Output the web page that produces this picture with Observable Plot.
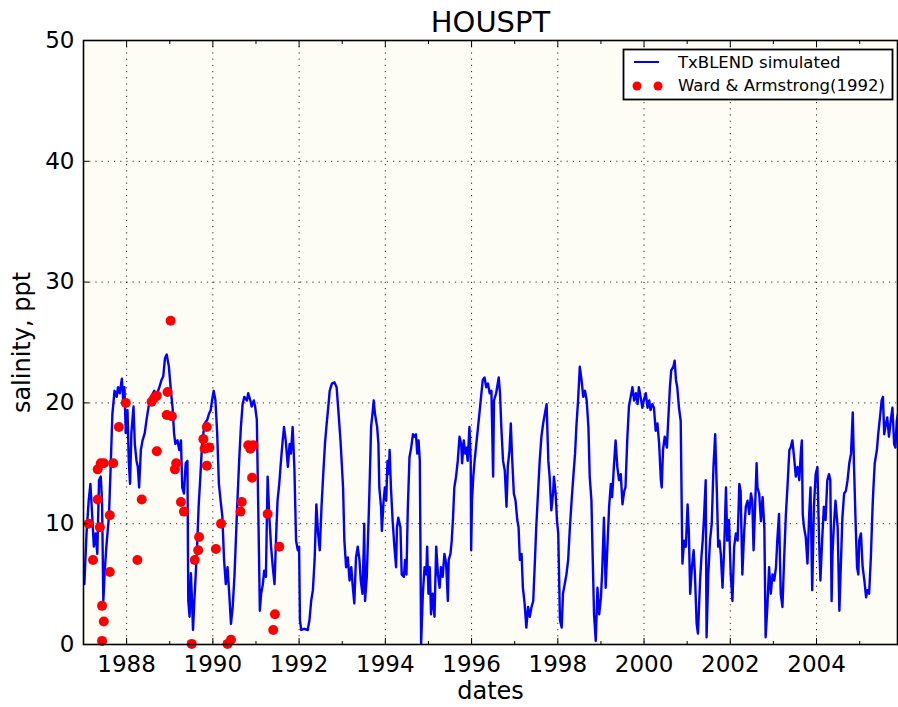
<!DOCTYPE html>
<html><head><meta charset="utf-8">
<script src="https://cdn.jsdelivr.net/npm/d3@7"></script>
<script src="https://cdn.jsdelivr.net/npm/@observablehq/plot@0.6"></script>
<style>
body{margin:0;background:#fff;}
#wrap{position:relative;width:898px;height:707px;font-family:"DejaVu Sans",sans-serif;}
#legend{position:absolute;left:0;top:0;}
</style></head><body><div id="wrap"></div>
<script>
const title = "HOUSPT";
const xLabel = "dates";
const yLabel = "salinity, ppt";
const seriesNames = ["TxBLEND simulated", "Ward & Armstrong(1992)"];
const xTickYears = [1988,1990,1992,1994,1996,1998,2000,2002,2004];
const xMinorYears = [1987,1989,1991,1993,1995,1997,1999,2001,2003,2005];
const yTicks = [0,10,20,30,40,50];

// TxBLEND simulated salinity (decimal year, ppt)
const simYear = [
1987.02,1987.07,1987.12,1987.16,1987.20,1987.24,1987.28,1987.32,1987.36,1987.40,1987.43,1987.46,1987.49,1987.53,1987.59,1987.63,1987.67,1987.72,1987.77,1987.80,1987.84,1987.89,1987.92,1987.95,1987.98,
1988.02,1988.05,1988.08,1988.11,1988.16,1988.19,1988.23,1988.26,1988.29,1988.33,1988.37,1988.42,1988.47,1988.52,1988.57,1988.64,1988.67,1988.71,1988.76,1988.81,1988.85,1988.89,1988.93,1988.98,
1989.02,1989.07,1989.10,1989.13,1989.18,1989.22,1989.26,1989.29,1989.33,1989.37,1989.41,1989.43,1989.46,1989.49,1989.51,1989.54,1989.57,1989.60,1989.64,1989.67,1989.71,1989.75,1989.81,1989.87,1989.91,1989.95,1989.98,
1990.02,1990.06,1990.10,1990.14,1990.18,1990.22,1990.26,1990.30,1990.34,1990.38,1990.42,1990.46,1990.50,1990.54,1990.57,1990.61,1990.65,1990.69,1990.73,1990.79,1990.82,1990.87,1990.90,1990.95,1990.98,
1991.02,1991.05,1991.09,1991.12,1991.16,1991.19,1991.23,1991.27,1991.31,1991.35,1991.39,1991.43,1991.47,1991.50,1991.54,1991.58,1991.62,1991.65,1991.69,1991.74,1991.78,1991.81,1991.85,1991.89,1991.93,1991.97,
1992.00,1992.02,1992.05,1992.12,1992.20,1992.24,1992.28,1992.32,1992.36,1992.40,1992.44,1992.48,1992.52,1992.56,1992.60,1992.64,1992.67,1992.71,1992.76,1992.82,1992.87,1992.91,1992.96,
1993.02,1993.05,1993.09,1993.13,1993.17,1993.21,1993.24,1993.28,1993.32,1993.36,1993.40,1993.43,1993.47,1993.50,1993.51,1993.53,1993.57,1993.63,1993.67,1993.71,1993.73,1993.76,1993.81,1993.84,1993.86,1993.90,1993.92,1993.96,1993.99,
1994.02,1994.05,1994.08,1994.10,1994.13,1994.17,1994.21,1994.25,1994.27,1994.30,1994.35,1994.38,1994.43,1994.46,1994.49,1994.52,1994.56,1994.60,1994.64,1994.67,1994.71,1994.74,1994.77,1994.80,1994.83,1994.87,1994.91,1994.95,1994.97,
1995.00,1995.03,1995.06,1995.10,1995.14,1995.18,1995.22,1995.26,1995.29,1995.33,1995.37,1995.41,1995.45,1995.47,1995.51,1995.54,1995.57,1995.60,1995.64,1995.68,1995.72,1995.76,1995.78,1995.82,1995.85,1995.88,1995.91,1995.95,1995.98,1995.99,
1996.01,1996.04,1996.07,1996.11,1996.15,1996.19,1996.22,1996.26,1996.30,1996.34,1996.38,1996.42,1996.46,1996.50,1996.52,1996.57,1996.63,1996.66,1996.69,1996.73,1996.77,1996.81,1996.84,1996.88,1996.91,1996.94,1996.98,
1997.02,1997.06,1997.09,1997.12,1997.16,1997.19,1997.23,1997.27,1997.31,1997.35,1997.39,1997.43,1997.47,1997.50,1997.54,1997.58,1997.62,1997.66,1997.70,1997.74,1997.78,1997.81,1997.85,1997.89,1997.91,1997.95,1997.98,
1998.01,1998.03,1998.05,1998.09,1998.12,1998.16,1998.20,1998.24,1998.28,1998.32,1998.36,1998.40,1998.43,1998.47,1998.51,1998.55,1998.59,1998.63,1998.67,1998.71,1998.74,1998.78,1998.80,1998.84,1998.88,1998.92,1998.96,
1999.00,1999.03,1999.07,1999.11,1999.15,1999.19,1999.23,1999.26,1999.30,1999.34,1999.38,1999.42,1999.46,1999.50,1999.54,1999.57,1999.61,1999.65,1999.69,1999.73,1999.77,1999.81,1999.85,1999.88,1999.92,1999.96,
2000.00,2000.04,2000.08,2000.12,2000.15,2000.19,2000.23,2000.27,2000.31,2000.35,2000.39,2000.41,2000.44,2000.48,2000.53,2000.56,2000.60,2000.63,2000.68,2000.71,2000.74,2000.77,2000.81,2000.85,2000.87,2000.89,2000.93,2000.97,
2001.01,2001.04,2001.07,2001.11,2001.15,2001.18,2001.22,2001.25,2001.30,2001.33,2001.36,2001.39,2001.43,2001.45,2001.49,2001.53,2001.57,2001.61,2001.65,2001.69,2001.72,2001.75,2001.78,2001.82,2001.86,2001.90,2001.93,2001.97,
2002.01,2002.05,2002.09,2002.13,2002.17,2002.21,2002.24,2002.28,2002.32,2002.36,2002.40,2002.44,2002.48,2002.51,2002.54,2002.57,2002.61,2002.63,2002.67,2002.71,2002.75,2002.79,2002.82,2002.86,2002.90,2002.94,2002.98,
2003.02,2003.06,2003.09,2003.13,2003.17,2003.21,2003.25,2003.29,2003.33,2003.37,2003.40,2003.44,2003.48,2003.52,2003.56,2003.60,2003.64,2003.66,2003.68,2003.71,2003.75,2003.79,2003.83,2003.86,2003.90,2003.94,2003.98,
2004.02,2004.06,2004.09,2004.13,2004.17,2004.21,2004.25,2004.29,2004.32,2004.35,2004.37,2004.40,2004.44,2004.49,2004.53,2004.56,2004.60,2004.64,2004.68,2004.72,2004.76,2004.80,2004.84,2004.87,2004.91,2004.94,2004.97,2004.99,
2005.03,2005.07,2005.11,2005.15,2005.18,2005.22,2005.26,2005.30,2005.32,2005.35,2005.40,2005.43,2005.48,2005.51,2005.54,2005.57,2005.61,2005.64,2005.68,2005.72,2005.76,2005.80,2005.83,2005.86,2005.89,2005.92
];
const simSal = [
5.0,9.2,11.9,13.3,10.8,8.1,9.2,7.5,13.6,13.9,11.9,3.6,5.9,8.1,10.6,14.7,19.1,21.0,20.5,21.3,20.8,22.0,20.2,21.3,17.5,
19.4,15.2,13.3,17.5,19.7,16.6,15.2,14.7,13.0,16.1,16.9,17.5,18.8,19.9,20.5,21.0,20.2,20.8,21.3,21.9,22.2,23.7,24.0,23.0,
21.3,19.4,17.5,16.6,16.9,16.1,16.9,13.0,12.5,15.0,15.2,3.6,2.3,5.9,4.2,1.2,3.6,5.6,8.6,11.4,13.9,16.6,18.3,18.6,19.1,19.4,20.2,
21.0,20.2,17.5,13.3,11.9,10.6,7.0,5.0,6.4,4.2,1.7,3.1,5.6,9.2,11.9,15.2,18.0,19.9,20.5,20.2,20.8,20.2,19.7,20.2,19.7,
18.6,11.9,2.8,4.2,5.0,6.1,5.6,13.9,10.6,8.1,6.4,5.0,9.2,11.9,13.3,15.2,16.9,18.0,16.9,14.7,16.6,15.8,18.0,14.7,8.6,7.8,
8.1,2.0,1.2,1.3,1.2,2.0,3.6,4.5,7.0,11.6,9.2,7.8,11.4,14.1,16.6,18.3,19.4,21.0,21.6,21.7,21.3,19.4,16.9,
13.0,8.6,6.4,7.2,5.3,6.4,5.0,3.4,7.2,8.1,7.0,5.3,4.2,8.1,10.0,3.6,5.6,12.5,18.0,19.4,20.2,19.1,18.0,16.6,13.0,11.4,9.4,11.9,13.0,
11.9,15.2,14.1,16.1,13.0,10.2,8.1,6.4,9.7,10.5,9.7,5.8,5.6,7.0,5.8,11.1,15.5,16.3,17.4,17.2,17.4,15.8,16.9,15.2,0.05,4.2,6.4,5.8,8.1,
4.2,6.4,2.5,4.2,2.3,8.1,5.8,4.7,6.4,5.6,7.5,6.7,3.6,7.0,7.5,8.6,10.5,13.0,13.9,15.2,17.2,16.6,15.0,16.9,15.8,16.3,15.2,18.0,15.2,7.8,
11.9,13.9,15.2,16.6,18.0,19.4,20.5,21.9,22.1,21.3,21.6,20.8,21.0,13.9,20.2,20.8,22.1,20.8,18.0,15.2,14.4,11.4,14.7,16.1,18.3,15.5,12.5,
11.9,10.3,9.7,7.0,7.5,4.7,3.4,1.4,3.1,2.3,3.1,3.6,7.0,9.7,12.5,15.2,17.2,18.3,19.1,19.9,15.2,13.9,11.1,12.5,13.9,12.5,10.3,
9.2,5.6,2.0,1.4,4.2,5.0,5.8,7.0,9.7,11.9,13.9,15.8,18.0,20.2,23.0,21.9,20.5,21.0,20.2,18.0,13.9,11.9,8.6,2.5,0.3,4.7,2.5,
3.9,6.1,10.5,4.7,8.1,11.4,13.3,12.2,14.7,16.9,14.7,13.6,14.1,11.6,12.7,13.0,16.9,19.7,20.5,21.3,20.2,20.8,19.9,21.3,20.5,19.6,
20.3,20.8,19.6,20.2,19.4,19.9,19.6,17.7,18.3,16.6,13.6,13.0,16.1,17.2,16.3,18.5,21.3,22.7,23.0,23.5,21.9,21.3,19.6,18.5,12.5,6.7,8.6,8.1,
11.6,9.2,4.2,6.4,7.8,5.8,1.7,0.9,5.3,7.2,8.6,10.5,13.6,0.6,5.8,8.6,10.0,14.7,17.4,12.5,8.1,8.6,7.5,4.7,8.1,13.0,8.6,10.3,
5.8,3.6,8.1,9.2,8.6,13.3,12.7,5.8,9.2,11.4,11.9,10.8,12.5,11.9,7.8,10.8,15.0,13.0,12.5,10.2,12.2,9.7,0.6,3.1,6.4,4.2,5.8,
5.3,6.4,8.6,10.8,4.2,3.1,7.2,10.8,13.3,16.1,16.3,16.9,15.5,13.9,14.7,13.6,16.1,16.9,10.8,9.7,8.9,6.7,10.8,13.0,4.5,11.4,14.1,
14.7,8.6,5.3,8.6,11.4,10.3,13.6,14.1,13.6,3.6,7.5,9.7,11.9,9.7,2.8,6.1,10.5,12.5,12.7,13.6,15.0,15.8,19.2,14.7,9.7,6.4,5.8,8.6,
9.2,6.4,5.3,3.9,4.5,4.2,7.2,11.4,13.0,15.0,16.1,17.4,19.1,20.2,20.5,17.4,18.3,18.8,17.2,18.5,19.6,16.6,16.3,18.5,19.1,18.3
];

// Ward & Armstrong (1992) observations (decimal year, ppt)
const obsYear = [1987.12,1987.22,1987.33,1987.40,1987.47,1987.33,1987.38,1987.43,1987.47,1987.43,1987.61,1987.61,1987.69,1987.82,1987.98,
1988.25,1988.35,1988.58,1988.64,1988.70,1988.70,1988.93,1988.95,1989.02,1989.05,1989.12,1989.15,1989.26,1989.33,1989.51,1989.58,1989.66,1989.68,1989.78,1989.81,1989.86,1989.86,1989.92,
1990.07,1990.19,1990.34,1990.42,1990.64,1990.67,1990.82,1990.87,1990.88,1990.91,1990.94,1991.27,1991.40,1991.44,1991.54];
const obsSal = [10.0,7.0,14.5,15.0,15.0,12.0,9.7,3.2,1.9,0.3,10.7,6.0,15.0,18.0,20.0,
7.0,12.0,20.1,20.4,20.6,16.0,19.0,20.9,26.8,18.9,14.5,15.0,11.8,11.0,0.05,7.0,7.8,8.9,17.0,16.2,18.0,14.8,16.3,
7.9,10.0,0.05,0.4,11.0,11.8,16.5,16.2,16.4,13.8,16.5,10.8,1.2,2.5,8.1];

const sim = simYear.map((x, i) => ({x, y: simSal[i]}));
const obs = obsYear.map((x, i) => ({x, y: obsSal[i]}));

const grid = {stroke: "#000", strokeOpacity: 0.85, strokeWidth: 1, strokeDasharray: "1.2,5"};
const blank = () => "";

const chart = Plot.plot({
  width: 898, height: 707,
  marginLeft: 83, marginRight: 1, marginTop: 40, marginBottom: 63,
  style: {fontFamily: "'DejaVu Sans', sans-serif", background: "transparent", color: "#000"},
  x: {domain: [1987, 2005.878]},
  y: {domain: [0, 50]},
  marks: [
    Plot.frame({fill: "#fdfdf6", stroke: null}),
    Plot.gridX(xTickYears, grid),
    Plot.gridY([10, 20, 30, 40], grid),
    Plot.line(sim, {x: "x", y: "y", stroke: "#0000ff", strokeWidth: 2.4, clip: true}),
    Plot.dot(obs, {x: "x", y: "y", r: 5, fill: "#ff0000", stroke: null}),
    Plot.axisX(xTickYears, {anchor: "bottom", tickSize: 0, tickPadding: 11, fontSize: 23, label: null, tickFormat: d => String(d)}),
    Plot.axisX(xTickYears, {anchor: "bottom", tickSize: -6, tickFormat: blank, label: null}),
    Plot.axisX(xMinorYears, {anchor: "bottom", tickSize: -3, tickFormat: blank, label: null}),
    Plot.axisX(xTickYears, {anchor: "top", tickSize: -6, tickFormat: blank, label: null}),
    Plot.axisX(xMinorYears, {anchor: "top", tickSize: -3, tickFormat: blank, label: null}),
    Plot.axisY(yTicks, {anchor: "left", tickSize: 0, tickPadding: 9, fontSize: 23, label: null, tickFormat: d => String(d)}),
    Plot.axisY(yTicks, {anchor: "left", tickSize: -6, tickFormat: blank, label: null}),
    Plot.frame({stroke: "#000", strokeWidth: 1.6}),
    Plot.text([title], {frameAnchor: "top", lineAnchor: "bottom", dy: -9, fontSize: 29}),
    Plot.text([xLabel], {frameAnchor: "bottom", lineAnchor: "bottom", dy: 54, fontSize: 24}),
    Plot.text([yLabel], {frameAnchor: "left", rotate: -90, dx: -61, fontSize: 24, textAnchor: "middle", lineAnchor: "middle"})
  ]
});
const wrap = document.getElementById("wrap");
wrap.appendChild(chart);

// Legend
const legend = document.createElementNS("http://www.w3.org/2000/svg", "svg");
legend.setAttribute("id", "legend");
legend.setAttribute("width", "898");
legend.setAttribute("height", "120");
legend.innerHTML = `
  <rect x="623.5" y="49.5" width="269" height="50" fill="#fff" stroke="#000" stroke-width="1.8"/>
  <line x1="634" y1="62" x2="659" y2="62" stroke="#0000ff" stroke-width="2"/>
  <circle cx="637" cy="86" r="4.5" fill="#ff0000"/>
  <circle cx="658" cy="86" r="4.5" fill="#ff0000"/>
  <text x="678" y="68" font-family="DejaVu Sans" font-size="16.5" fill="#000"></text>
  <text x="678" y="91" font-family="DejaVu Sans" font-size="16.5" fill="#000"></text>`;
const texts = legend.querySelectorAll("text");
texts[0].textContent = seriesNames[0];
texts[1].textContent = seriesNames[1];
wrap.appendChild(legend);
</script></body></html>
